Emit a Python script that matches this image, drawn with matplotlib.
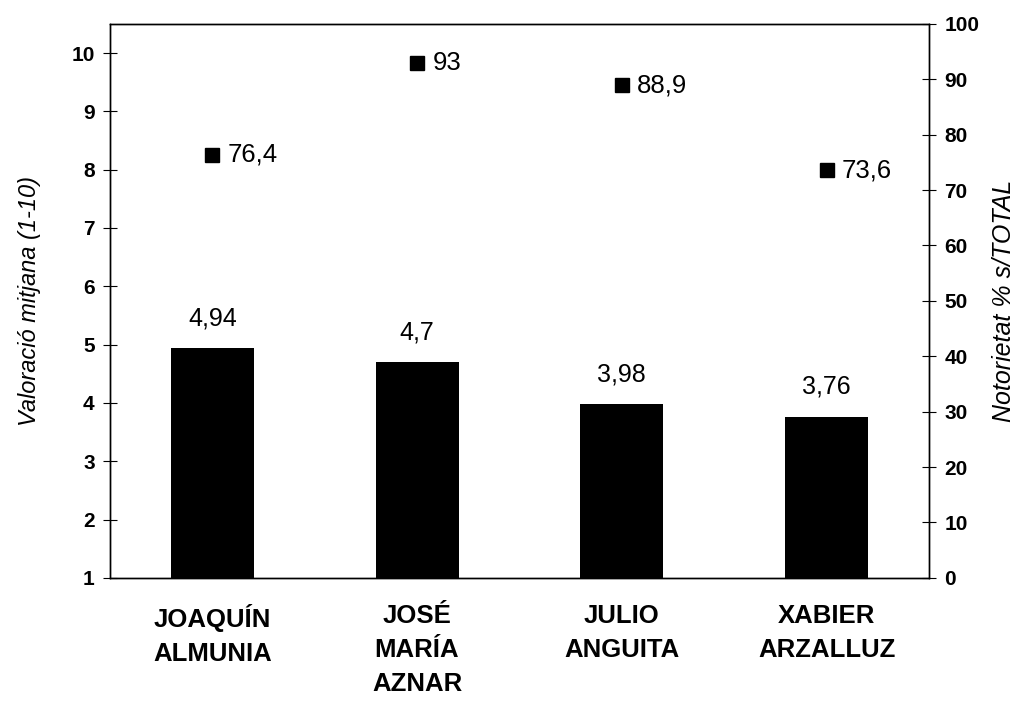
import numpy as np
import matplotlib.pyplot as plt

plt.rcParams['font.family'] = ['Liberation Sans', 'DejaVu Sans']

candidats = ["JOAQUÍN\nALMUNIA", "JOSÉ\nMARÍA\nAZNAR", "JULIO\nANGUITA", "XABIER\nARZALLUZ"]
valoracio = [4.94, 4.7, 3.98, 3.76]
notorietat = [76.4, 93, 88.9, 73.6]


def fmt(v):
    s = f"{v:g}"
    return s.replace('.', ',')


fig = plt.figure(figsize=(10.18, 7.03), dpi=100)
ax = fig.add_axes([0.108, 0.178, 0.8045, 0.788])
ax2 = ax.twinx()

x = np.arange(len(candidats))
ax.bar(x, valoracio, width=0.405, color='black', bottom=0)
for xi, v in zip(x, valoracio):
    ax.annotate(fmt(v), (xi, v), xytext=(0, 13), textcoords='offset points',
                ha='center', va='bottom', fontsize=18)

ax2.plot(x, notorietat, 's', color='black', ms=10)
for xi, v in zip(x, notorietat):
    ax2.annotate(fmt(v), (xi, v), xytext=(11, 0), textcoords='offset points',
                 ha='left', va='center', fontsize=18.5)

ax.set_xlim(-0.5, 3.5)
ax.set_ylim(1, 10.5)
ax2.set_ylim(0, 100)
ax.set_yticks(range(1, 11))
ax2.set_yticks(range(0, 101, 10))
ax.set_xticks(x)
ax.set_xticklabels(candidats, fontsize=18.5, fontweight='bold', linespacing=1.52)
ax.tick_params(axis='x', length=0, pad=19)
ax.tick_params(axis='y', direction='inout', length=10, width=0.8, labelsize=15, pad=6)
ax2.tick_params(axis='y', direction='inout', length=10, width=0.8, labelsize=15, pad=6)
for lab in ax.get_yticklabels() + ax2.get_yticklabels():
    lab.set_fontweight('bold')

for a in (ax, ax2):
    for s in a.spines.values():
        s.set_linewidth(1.0)
        s.set_color('black')

ax.set_ylabel("Valoració mitjana (1-10)", fontsize=17, style='italic', labelpad=22)
ax2.set_ylabel("Notorietat % s/TOTAL", fontsize=18, style='italic', labelpad=9, rotation=90)

fig.savefig("out.png", dpi=100)
